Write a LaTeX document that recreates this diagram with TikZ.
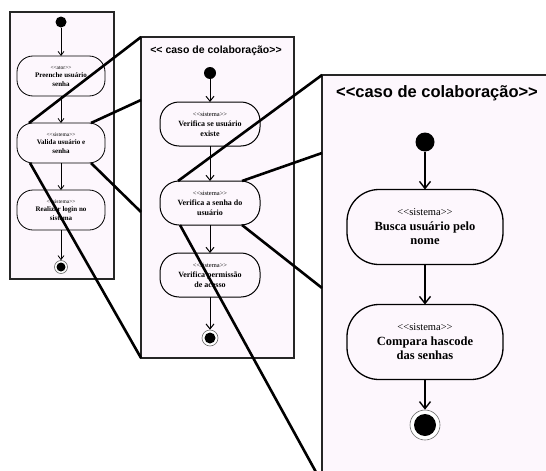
\documentclass[tikz,border=0pt]{standalone}
\usepackage{fontspec}
\setmainfont{Liberation Serif}[Ligatures=TeXOff]
\newfontfamily\titlefont{Liberation Sans}[Ligatures=TeXOff]
\usetikzlibrary{arrows.meta,calc}
\definecolor{pinkbg}{RGB}{253,247,253}
\definecolor{ringgray}{RGB}{105,105,105}
\newcommand{\stereo}[2]{{\fontsize{#1}{#1}\selectfont\mdseries<<#2>>}}
\tikzset{
  panel/.style={draw=black!85,line width=1.8pt,fill=pinkbg,inner sep=0pt,outer sep=0pt},
  act/.style={draw=black,fill=pinkbg,align=center,inner sep=0pt,outer sep=0pt},
  actA/.style={act,line width=0.8pt,rounded corners=16pt,minimum width=88pt,minimum height=40pt,font=\fontsize{7}{8.5}\selectfont\bfseries},
  actB/.style={act,line width=1pt,rounded corners=19pt,minimum width=100pt,minimum height=44pt,font=\fontsize{8}{10}\selectfont\bfseries},
  actC/.style={act,line width=1.3pt,rounded corners=32pt,minimum width=156pt,minimum height=75pt,font=\fontsize{12.5}{14.5}\selectfont\bfseries},
  ini/.style={circle,fill=black,inner sep=0pt,minimum size=#1},
  endring/.style={circle,draw=ringgray,line width=0.6pt,fill=white,inner sep=0pt,minimum size=#1},
  enddot/.style={circle,fill=black,inner sep=0pt,minimum size=#1},
  arrA/.style={-{Straight Barb[length=4pt,width=6pt]},line width=0.8pt},
  arrB/.style={-{Straight Barb[length=5pt,width=8pt]},line width=1pt},
  arrC/.style={-{Straight Barb[length=7pt,width=11pt]},line width=1.4pt},
  zoomln/.style={line width=2.6pt,black},
  ptitle/.style={font=\titlefont\bfseries,inner sep=0pt},
}
\begin{document}
\begin{tikzpicture}[x=1pt,y=-1pt]
  \useasboundingbox (0,0) rectangle (546,471);
  \clip (0,0) rectangle (546,471);
  \fill[white] (0,0) rectangle (546,471);

  \node[panel,minimum width=104pt,minimum height=267pt] (p1) at (62,145.5) {};
  \node[panel,minimum width=153pt,minimum height=321pt] (p2) at (217.5,197.5) {};
  \node[panel,minimum width=250pt,minimum height=408pt] (p3) at (447,279) {};

  \node[ini=11pt] (s1) at (61,22) {};
  \node[actA] (v1) at (61,76) {\stereo{5.5}{ator}\\Preenche usuário\\senha};
  \node[actA] (v2) at (61,143) {\stereo{5.5}{sistema}\\Valida usuário e\\senha};
  \node[actA] (v3) at (61,210) {\stereo{5.5}{sistema}\\Realizar login no\\sistema};
  \node[endring=13pt] (f1) at (61,267) {};
  \node[enddot=9pt] (f1c) at (f1) {};
  \foreach \a/\b in {s1/v1,v1/v2,v2/v3,v3/f1}
    \draw[arrA] (\a) -- (\b);

  \node[ptitle,font=\titlefont\bfseries\fontsize{10.5}{12}\selectfont] (t2) at (216,51) {<< caso de colaboração>>};
  \node[ini=12pt] (s2) at (210,73) {};
  \node[actB] (a1) at (210,124) {\stereo{6.5}{sistema}\\Verifica se usuário\\existe};
  \node[actB] (a2) at (210,203) {\stereo{6.5}{sistema}\\Verifica a senha do\\usuário};
  \node[actB] (a3) at (210,275) {\stereo{6.5}{sistema}\\Verifica permissão\\de acesso};
  \node[endring=16pt] (f2) at (210,338) {};
  \node[enddot=11pt] (f2c) at (f2) {};
  \foreach \a/\b in {s2/a1,a1/a2,a2/a3,a3/f2}
    \draw[arrB] (\a) -- (\b);

  \node[ptitle,font=\titlefont\bfseries\fontsize{16.5}{18}\selectfont] (t3) at (437,93) {<<caso de colaboração>>};
  \node[ini=19pt] (s3) at (425,142) {};
  \node[actC] (b1) at (425,227) {\stereo{10.5}{sistema}\\Busca usuário pelo\\nome};
  \node[actC] (b2) at (425,342) {\stereo{10.5}{sistema}\\Compara hascode\\das senhas};
  \node[endring=30pt] (f3) at (425,425) {};
  \node[enddot=22pt] (f3c) at (f3) {};
  \foreach \a/\b in {s3/b1,b1/b2,b2/f3}
    \draw[arrC] (\a) -- (\b);

  \coordinate (q1) at (141,100);
  \coordinate (q2) at (141,212);
  \coordinate (r1) at (322,153);
  \coordinate (r2) at (322,288);
  \draw[zoomln] ([xshift=12pt]v2.north west) -- (p2.north west);
  \draw[zoomln] ([xshift=-14pt]v2.north east) -- (q1);
  \draw[zoomln] ([xshift=-14pt]v2.south east) -- (q2);
  \draw[zoomln] ([xshift=13pt]v2.south west) -- (p2.south west);
  \draw[zoomln] ([xshift=18pt]a2.north west) -- (p3.north west);
  \draw[zoomln] ([xshift=-18pt]a2.north east) -- (r1);
  \draw[zoomln] ([xshift=-18pt]a2.south east) -- (r2);
  \draw[zoomln] ([xshift=20pt]a2.south west) -- (p3.south west);
\end{tikzpicture}
\end{document}
